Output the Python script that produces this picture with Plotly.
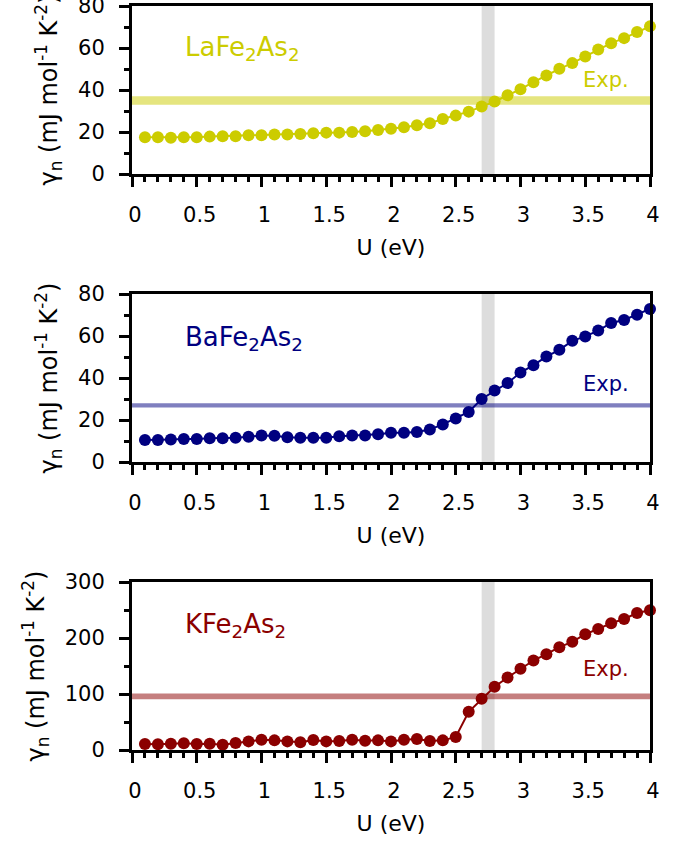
import plotly.graph_objects as go

U = [round(0.1 * i, 1) for i in range(1, 41)]

gamma_La = [17.5, 17.5, 17.3, 17.5, 17.5, 17.8, 18.0, 18.0, 18.4, 18.4,
            18.8, 18.8, 19.1, 19.4, 19.7, 19.7, 20.0, 20.4, 21.0, 21.5,
            22.3, 23.2, 24.2, 26.2, 27.8, 29.7, 32.1, 34.5, 37.5, 40.4,
            43.7, 46.9, 50.1, 52.8, 56.0, 59.3, 62.3, 64.7, 67.6, 70.3]
gamma_Ba = [10.5, 10.5, 10.7, 10.9, 10.9, 11.3, 11.3, 11.6, 12.0, 12.6,
            12.5, 11.8, 11.6, 11.6, 11.6, 12.3, 12.6, 12.6, 13.2, 13.9,
            13.9, 14.3, 15.5, 17.9, 20.7, 23.8, 30.0, 34.0, 37.6, 42.6,
            46.1, 50.2, 53.4, 57.7, 59.8, 62.6, 66.2, 67.6, 70.1, 72.9]
gamma_K = [10.7, 10.1, 11.3, 11.9, 10.7, 11.3, 9.5, 12.5, 15.4, 18.4,
           17.2, 15.4, 13.7, 17.8, 15.4, 16.0, 18.4, 16.6, 17.2, 15.4,
           18.4, 19.6, 16.0, 17.2, 23.2, 68.3, 91.5, 112.9, 129.5, 144.9,
           159.8, 171.1, 183.6, 193.1, 206.7, 216.2, 226.3, 234.0, 244.7, 249.5]

compounds = ["LaFe<sub>2</sub>As<sub>2</sub>", "BaFe<sub>2</sub>As<sub>2</sub>", "KFe<sub>2</sub>As<sub>2</sub>"]
series = [gamma_La, gamma_Ba, gamma_K]
exp_low = [33.0, 26.0, 90.5]
exp_high = [37.0, 28.0, 101.0]
y_max = [80, 80, 300]
y_dtick = [20, 20, 100]
y_minor = [10, 10, 50]
band_U = [2.7, 2.8]
label_pos = [(0.39, 60.0), (0.39, 59.0), (0.39, 223.0)]
exp_label_pos = [(3.66, 45.0), (3.66, 37.0), (3.66, 145.0)]

colors = ["#cccc00", "#000080", "#8b0000"]
exp_colors = ["rgba(204,204,0,0.5)", "rgba(0,0,128,0.5)", "rgba(139,0,0,0.5)"]

H = 843
top_px = [6, 294, 582]
plot_h = 168
margin_t = 6
margin_b = H - 750
area = H - margin_t - margin_b

FONT = "DejaVu Sans"
fig = go.Figure()
layout = dict(
    width=689, height=H,
    margin=dict(l=132, r=39, t=margin_t, b=margin_b, autoexpand=False),
    plot_bgcolor="white", paper_bgcolor="white",
    showlegend=False,
    font=dict(family=FONT, size=21, color="black"),
)
shapes = []
annotations = []

for i in range(3):
    xa = "x" if i == 0 else f"x{i+1}"
    ya = "y" if i == 0 else f"y{i+1}"
    fig.add_trace(go.Scatter(
        x=U, y=series[i], mode="lines+markers", xaxis=xa, yaxis=ya,
        line=dict(color=colors[i], width=2),
        marker=dict(color=colors[i], size=12),
        cliponaxis=False,
    ))
    y_top = (750 - top_px[i]) / area
    y_bot = (750 - top_px[i] - plot_h) / area
    common_ticks = dict(
        showline=True, linecolor="black", linewidth=3, mirror=True,
        ticks="outside", ticklen=10, tickwidth=3, tickcolor="black",
        showgrid=False, zeroline=False, automargin=False,
        ticklabeloverflow="allow",
        tickfont=dict(family=FONT, size=21, color="black"),
    )
    layout["xaxis" if i == 0 else f"xaxis{i+1}"] = dict(
        domain=[0, 1], anchor=ya, range=[0, 4], dtick=0.5, tick0=0,
        minor=dict(dtick=0.1, ticks="outside", ticklen=5, tickwidth=3, tickcolor="black"),
        ticklabelstandoff=10, ticklabelshift=3,
        title=dict(text="U (eV)", font=dict(family=FONT, size=22), standoff=14),
        **common_ticks,
    )
    layout["yaxis" if i == 0 else f"yaxis{i+1}"] = dict(
        domain=[y_bot, y_top], anchor=xa, range=[0, y_max[i]], dtick=y_dtick[i], tick0=0,
        minor=dict(dtick=y_minor[i], ticks="outside", ticklen=5, tickwidth=3, tickcolor="black"),
        ticklabelstandoff=10,
        title=dict(text="γ<sub>n</sub> (mJ mol<sup>-1</sup> K<sup>-2</sup>)",
                   font=dict(family=FONT, size=24), standoff=14),
        **common_ticks,
    )
    shapes.append(dict(type="rect", xref=xa, yref=ya, x0=0, x1=4,
                       y0=exp_low[i], y1=exp_high[i], fillcolor=exp_colors[i],
                       line=dict(width=0), layer="below"))
    shapes.append(dict(type="rect", xref=xa, yref=f"{ya} domain", x0=band_U[0], x1=band_U[1],
                       y0=0, y1=1, fillcolor="#dddddd", line=dict(width=0), layer="below"))
    annotations.append(dict(xref=xa, yref=ya, x=label_pos[i][0], y=label_pos[i][1],
                            text=compounds[i], showarrow=False, xanchor="left", yanchor="middle",
                            font=dict(family=FONT, size=26, color=colors[i])))
    annotations.append(dict(xref=xa, yref=ya, x=exp_label_pos[i][0], y=exp_label_pos[i][1],
                            text="Exp.", showarrow=False, xanchor="center", yanchor="middle",
                            font=dict(family=FONT, size=21, color=colors[i])))

layout["shapes"] = shapes
layout["annotations"] = annotations
fig.update_layout(**layout)
fig.write_html("out.html")
